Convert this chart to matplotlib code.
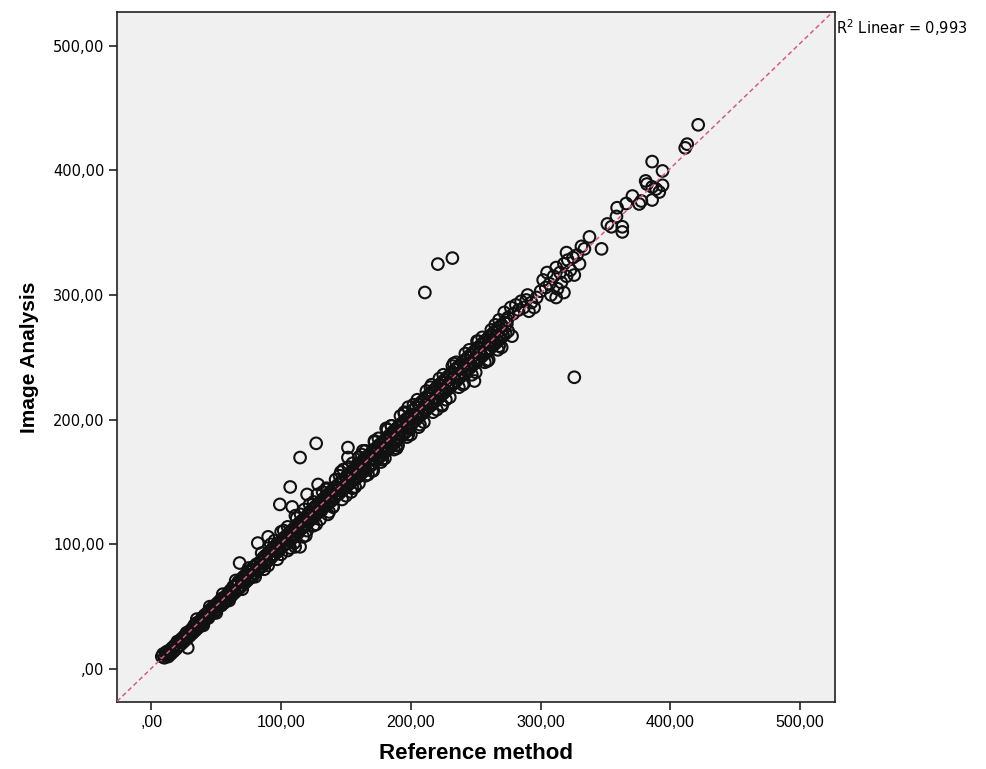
import numpy as np
import matplotlib
matplotlib.use("Agg")
import matplotlib.pyplot as plt

# --- values (Reference method, Image Analysis) ---
ref_low = [8, 9, 10, 11, 12, 12, 13, 14, 15, 16, 17, 18, 19, 20, 21, 22, 23, 24, 25, 26,
           27, 28, 28, 29, 30, 31, 32, 33, 34, 35, 36, 37, 38, 39, 40, 41, 42, 43, 44, 45,
           46, 47, 48, 49, 50, 51, 52, 53, 54, 55, 56, 57, 58, 59, 60, 61, 62, 63, 64, 65,
           66, 67, 68, 69, 70, 71, 72, 73, 74, 75, 76, 77, 78, 79, 80, 81, 82, 83, 68, 82,
           14, 22, 30, 38, 46, 54, 62, 70, 78]
ia_low = [10, 12, 9, 13, 11, 14, 10, 15, 12, 17, 14, 19, 16, 18, 22, 19, 24, 21, 26, 23,
          28, 17, 25, 30, 27, 32, 29, 35, 31, 37, 33, 38, 35, 41, 37, 43, 40, 45, 41, 47,
          44, 49, 45, 51, 47, 53, 50, 55, 51, 57, 53, 58, 55, 61, 57, 63, 59, 66, 61, 67,
          63, 70, 65, 72, 67, 74, 69, 76, 71, 78, 73, 80, 74, 82, 77, 84, 79, 81, 85, 101,
          13, 22, 30, 38, 46, 54, 62, 70, 79]

ref_mid = [84, 85, 86, 87, 88, 89, 90, 91, 92, 93, 94, 95, 96, 97, 98, 99, 100, 101, 102, 103,
           104, 105, 106, 107, 108, 109, 110, 112, 113, 114, 115, 116, 117, 118, 119, 120, 121, 122, 123, 124,
           125, 126, 127, 128, 129, 130, 131, 132, 133, 134, 135, 136, 137, 138, 139, 140, 141, 142, 143, 144,
           145, 146, 147, 148, 149, 150, 151, 152, 153, 154, 155, 156, 157, 158, 159, 160, 161, 162, 163, 164,
           165, 166, 167, 168, 169, 170, 171, 172, 173, 174, 175, 176, 177, 178, 179, 180, 181, 182, 183, 184,
           185, 186, 187, 188, 189, 190, 191, 192, 193, 194, 195, 196, 197, 198, 199, 200,
           100, 105, 118, 125, 135, 140, 148, 155, 160, 165, 172, 178, 185, 190, 195, 198,
           88, 96, 104, 111, 121, 129, 137, 145, 153, 161, 169, 177, 183, 191, 197]
ia_mid = [86, 82, 89, 84, 91, 86, 93, 88, 95, 90, 97, 92, 99, 94, 101, 96, 103, 98, 105, 100,
          107, 101, 109, 104, 111, 106, 113, 115, 109, 117, 112, 119, 114, 121, 115, 123, 118, 126, 120, 128,
          121, 130, 124, 132, 126, 134, 127, 136, 130, 138, 131, 140, 134, 142, 135, 144, 137, 146, 140, 148,
          141, 150, 143, 152, 145, 154, 147, 156, 149, 158, 151, 160, 152, 162, 154, 164, 156, 166, 158, 168,
          160, 170, 161, 172, 163, 174, 165, 176, 167, 178, 169, 180, 171, 182, 173, 184, 175, 186, 177, 188,
          179, 190, 181, 192, 183, 194, 185, 196, 187, 198, 189, 200, 191, 202, 193, 204,
          110, 95, 128, 115, 145, 130, 160, 145, 170, 155, 182, 168, 195, 180, 205, 188,
          88, 96, 104, 111, 121, 129, 137, 145, 153, 161, 169, 177, 183, 191, 197]

ref_high = [201, 202, 203, 204, 205, 206, 207, 208, 209, 210, 211, 212, 213, 214, 215, 216, 217, 218, 219, 220,
            221, 222, 223, 224, 224, 225, 226, 227, 228, 229, 230, 231, 232, 233, 234, 235, 236, 237, 238, 239,
            240, 241, 242, 243, 244, 245, 246, 247, 248, 249, 249, 250, 251, 252, 253, 254, 255, 256, 257, 258,
            259, 260, 261, 262, 263, 264, 265, 266, 267, 268, 269, 270, 271, 272, 273, 274, 275,
            205, 212, 221, 229, 237, 245, 253, 261, 268,
            272, 275, 277, 279, 281, 283, 285, 287, 289, 291, 293, 295, 297, 290, 278, 268,
            300, 302, 304, 305, 307, 308, 310, 312, 313, 315, 316, 318, 320, 321, 323, 318, 325, 326, 328, 330, 312, 320]
ia_high = [197, 208, 199, 210, 201, 212, 203, 214, 205, 216, 207, 218, 209, 220, 211, 222, 213, 224, 215, 226,
           217, 228, 219, 211, 230, 221, 232, 223, 234, 225, 236, 227, 238, 229, 240, 231, 242, 233, 244, 235,
           246, 237, 248, 239, 250, 241, 252, 243, 254, 231, 245, 256, 247, 258, 249, 260, 251, 262, 253, 264,
           255, 266, 257, 268, 259, 270, 261, 272, 263, 274, 265, 276, 267, 278, 269, 280, 271,
           205, 212, 221, 229, 237, 245, 253, 261, 268,
           286, 282, 290, 285, 292, 288, 295, 290, 296, 287, 294, 290, 298, 300, 267, 259,
           303, 312, 306, 318, 309, 300, 315, 322, 305, 318, 310, 325, 315, 328, 320, 302, 330, 316, 332, 325, 298, 334]

# wider edges of the dense band
ref_band = [35, 40, 45, 50, 55, 60, 65, 70, 75, 80, 85, 90, 95, 100, 105, 110, 115, 120, 125, 130,
            135, 140, 145, 150, 155, 160, 165, 170, 175, 180, 185, 190, 195, 200, 205, 210, 215, 220, 225, 230,
            235, 240, 245, 250, 255, 260, 265, 270,
            87, 92, 97, 102, 107, 112, 117, 122, 127, 132, 137, 142, 147, 152, 157, 162, 167, 172, 177, 182,
            187, 192, 197, 202, 207, 212, 217, 222, 227, 232, 237, 242, 247, 252, 257, 262, 267,
            103, 113, 123, 133, 143, 153, 163, 173, 183, 193, 203, 213, 223, 233, 243, 253, 263]
ia_band = [40, 35, 50, 45, 60, 55, 71, 64, 81, 74, 93, 83, 103, 92, 114, 101, 124, 111, 134, 120,
           144, 130, 155, 139, 165, 149, 175, 159, 185, 169, 195, 179, 206, 188, 216, 198, 226, 208, 236, 218,
           246, 228, 256, 238, 266, 248, 276, 258,
           80, 100, 88, 111, 97, 121, 106, 132, 116, 142, 126, 152, 136, 162, 146, 172, 156, 183, 166, 192,
           176, 203, 186, 212, 196, 223, 206, 233, 216, 243, 226, 253, 236, 263, 246, 272, 256,
           103, 113, 124, 132, 143, 154, 162, 173, 184, 192, 203, 214, 222, 234, 243, 254, 262]

# outermost scatter of the band
ref_edge = [111, 119, 128, 136, 146, 154, 163, 171, 181, 189, 198, 206, 216, 224, 233, 241, 251, 259, 268]
ia_edge = [123, 107, 140, 124, 158, 142, 175, 159, 193, 177, 210, 194, 228, 212, 245, 229, 263, 247, 280]

# inner fill of the band
ref_fill = [20, 24, 27, 31, 34, 37, 41, 44, 47, 51, 54, 57, 61, 64, 67, 71, 74, 77, 81, 84,
            87, 91, 94, 97, 101, 104, 107, 111, 114, 117, 121, 124, 127, 131, 134, 137, 141, 144, 147, 151,
            154, 157, 161, 164, 167, 171, 174, 177, 181, 184, 187, 191, 194, 197, 201, 204, 207, 211, 214, 217,
            221, 224, 227, 231, 234, 237, 241, 244, 247, 251, 254, 257, 261, 264, 267, 271, 274]
ia_fill = [22, 23, 29, 30, 36, 35, 43, 42, 49, 50, 56, 55, 63, 62, 69, 70, 76, 75, 83, 82,
           90, 88, 97, 95, 104, 101, 110, 108, 117, 114, 124, 121, 130, 128, 137, 134, 144, 141, 150, 148,
           157, 154, 164, 161, 170, 168, 177, 174, 184, 181, 190, 188, 197, 194, 204, 201, 210, 208, 217, 214,
           224, 221, 230, 228, 237, 234, 244, 241, 250, 248, 257, 254, 264, 261, 270, 268, 277]

ref_top = [331.5, 333.8, 337.7, 347, 351.5, 354.6, 358.5, 359, 363, 363, 366, 370.8, 376, 377.7,
           381, 382, 386, 386, 389, 391.5, 394, 394, 386, 411.5, 413, 421.5]
ia_top = [339, 337, 346.6, 337, 357, 354.7, 363, 370, 354.7, 350.6, 373.4, 379.4, 373, 375.4,
          391.5, 389, 386.7, 376.2, 385, 382.6, 388, 399.5, 407, 418, 421, 436.5]

ref_out = [326, 210.8, 220.8, 232, 127, 114.6, 107, 99, 108.5, 151.5, 151.5, 128.5, 120, 114.6, 90, 110.8]
ia_out = [234, 302, 324.8, 329.6, 181, 169.6, 146, 132, 130, 177.6, 169.6, 148, 140, 98, 106, 98]

ticks = [0, 100, 200, 300, 400, 500]
tick_labels = [",00", "100,00", "200,00", "300,00", "400,00", "500,00"]

x = np.array(ref_low + ref_mid + ref_high + ref_band + ref_edge + ref_fill + ref_top + ref_out, dtype=float)
y = np.array(ia_low + ia_mid + ia_high + ia_band + ia_edge + ia_fill + ia_top + ia_out, dtype=float)

fig = plt.figure(figsize=(9.86, 7.69), dpi=100)
ax = fig.add_axes([0.1187, 0.0871, 0.7282, 0.8973])
ax.set_facecolor("#f0f0f0")

ax.scatter(x, y, s=70, facecolors="none", edgecolors="#111111", linewidths=1.5, zorder=2)

lo, hi = -26.5, 527
ax.set_xlim(lo, hi)
ax.set_ylim(lo, hi)

# fit line across the whole plot
slope, intercept = np.polyfit(x, y, 1)
xx = np.array([lo, hi])
ax.plot(xx, slope * xx + intercept, color="#d45a8a", lw=1.1, dashes=(3, 2), zorder=3)

ax.set_xticks(ticks)
ax.set_xticklabels(tick_labels, fontfamily="Liberation Sans", fontsize=11.5)
ax.set_yticks(ticks)
ax.set_yticklabels(tick_labels, fontfamily="DejaVu Sans", fontsize=10.5)
ax.tick_params(direction="out", length=6, width=1.2, color="#222222", pad=3)
for sp in ax.spines.values():
    sp.set_linewidth(1.2)
    sp.set_color("#222222")

ax.set_xlabel("Reference method", fontfamily="Liberation Sans", fontweight="bold", fontsize=16, labelpad=10)
ax.set_ylabel("Image Analysis", fontfamily="Liberation Sans", fontweight="bold", fontsize=15, labelpad=10)

fig.text(0.848, 0.964, "R$^{2}$ Linear = 0,993", fontsize=10.5, fontfamily="DejaVu Sans", va="center")

fig.savefig("out.png", dpi=100, facecolor="white")
